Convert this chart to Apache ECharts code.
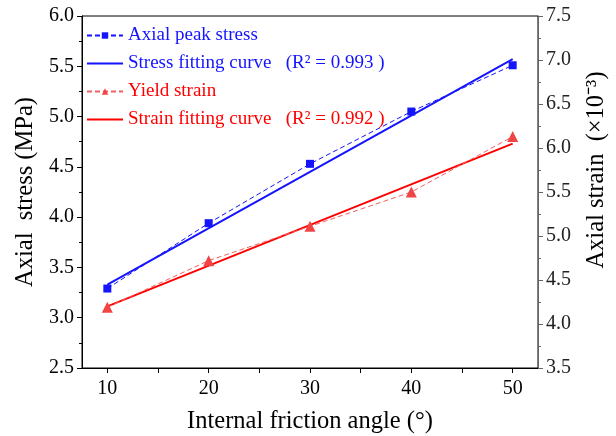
<!DOCTYPE html>
<html><head><meta charset="utf-8">
<script src="https://cdn.jsdelivr.net/npm/echarts@6/dist/echarts.min.js"></script>
<style>html,body{margin:0;padding:0;background:#fff}#c{width:616px;height:436px}</style>
</head><body><div id="c"></div>
<script>
const angles = [10, 20, 30, 40, 50];
const peakStress = [3.29, 3.94, 4.53, 5.05, 5.51];
const yieldStrain = [4.19, 4.72, 5.11, 5.50, 6.13];
const fitX = [10, 50];
const stressFit = [3.33, 5.57];
const strainFit = [4.20, 6.05];
const xTickLabels = [10, 20, 30, 40, 50];
const xTickMarks = [10, 15, 20, 25, 30, 35, 40, 45, 50];
const names = ['Axial peak stress', 'Stress fitting curve', 'Yield strain', 'Strain fitting curve'];
const r2 = {'Stress fitting curve': '0.993', 'Strain fitting curve': '0.992'};

const FONT = 'Liberation Serif';
const BLUE = '#1414ff';
const RED = '#ff0000';
const RED2 = '#f04545';
const CLEAR = 'rgba(0,0,0,0)';

const chart = echarts.init(document.getElementById('c'));
chart.setOption({
  animation: false,
  backgroundColor: '#fff',
  grid: {left: 82, right: 78, top: 16, bottom: 68, show: true, borderColor: '#000', borderWidth: 1,
         containLabel: false, outerBoundsMode: 'none'},
  legend: {
    orient: 'vertical', left: 81, top: 21, itemWidth: 36, itemHeight: 8, itemGap: 9,
    textStyle: {fontFamily: FONT, fontSize: 19, lineHeight: 18},
    formatter: n => r2[n] ? n + '   (R\u00B2 = ' + r2[n] + ' )' : n,
    data: [
      {name: names[0], textStyle: {color: BLUE}},
      {name: names[1], textStyle: {color: BLUE}, itemStyle: {color: CLEAR, borderWidth: 0}},
      {name: names[2], textStyle: {color: RED}},
      {name: names[3], textStyle: {color: RED}, itemStyle: {color: CLEAR, borderWidth: 0}}
    ]
  },
  graphic: [{
    type: 'text', x: 597, y: 170, rotation: Math.PI / 2,
    style: {text: 'Axial strain  (\u00D710\u207B\u00B3)', fill: '#000', font: '24.5px "Liberation Serif"',
            textAlign: 'center', textVerticalAlign: 'middle'}
  }],
  xAxis: {
    type: 'value', min: 7.5, max: 52.5,
    name: 'Internal friction angle (\u00B0)', nameLocation: 'middle', nameGap: 41,
    nameTextStyle: {fontFamily: FONT, fontSize: 24.5, color: '#000'},
    axisLine: {lineStyle: {color: '#000', width: 1}},
    axisTick: {inside: false, length: 5, customValues: xTickMarks, lineStyle: {color: '#000'}},
    axisLabel: {customValues: xTickLabels, fontFamily: FONT, fontSize: 20, color: '#000', margin: 11},
    splitLine: {show: false}
  },
  yAxis: [
    {
      type: 'value', min: 2.5, max: 6.0, interval: 0.5, position: 'left',
      name: 'Axial  stress (MPa)', nameLocation: 'middle', nameGap: 43,
      nameTextStyle: {fontFamily: FONT, fontSize: 24.5, color: '#000'},
      axisLine: {show: true, lineStyle: {color: '#000'}},
      axisTick: {show: true, length: 5, lineStyle: {color: '#000'}},
      minorTick: {show: true, splitNumber: 2, length: 3, lineStyle: {color: '#000'}},
      axisLabel: {fontFamily: FONT, fontSize: 20, color: '#000', margin: 8, formatter: v => v.toFixed(1)},
      splitLine: {show: false}
    },
    {
      type: 'value', min: 3.5, max: 7.5, interval: 0.5, position: 'right',
      axisLine: {show: true, lineStyle: {color: '#666'}},
      axisTick: {show: true, length: 5, lineStyle: {color: '#666'}},
      minorTick: {show: true, splitNumber: 2, length: 3, lineStyle: {color: '#666'}},
      axisLabel: {fontFamily: FONT, fontSize: 20, color: '#222', margin: 8, formatter: v => v.toFixed(1)},
      splitLine: {show: false}
    }
  ],
  series: [
    {
      name: names[0], type: 'line', yAxisIndex: 0,
      data: angles.map((a, i) => [a, peakStress[i]]),
      symbol: 'rect', symbolSize: 8,
      itemStyle: {color: BLUE},
      lineStyle: {color: BLUE, width: 1, type: [5, 3]}, z: 3
    },
    {
      name: names[1], type: 'line', yAxisIndex: 0,
      data: fitX.map((a, i) => [a, stressFit[i]]),
      showSymbol: false, symbol: 'none',
      itemStyle: {color: BLUE},
      lineStyle: {color: BLUE, width: 2}, z: 2
    },
    {
      name: names[2], type: 'line', yAxisIndex: 1,
      data: angles.map((a, i) => [a, yieldStrain[i]]),
      symbol: 'triangle', symbolSize: 11,
      itemStyle: {color: RED2},
      lineStyle: {color: '#f26060', width: 1, type: [5, 3]}, z: 3
    },
    {
      name: names[3], type: 'line', yAxisIndex: 1,
      data: fitX.map((a, i) => [a, strainFit[i]]),
      showSymbol: false, symbol: 'none',
      itemStyle: {color: RED},
      lineStyle: {color: RED, width: 2}, z: 2
    }
  ]
});
</script></body></html>
